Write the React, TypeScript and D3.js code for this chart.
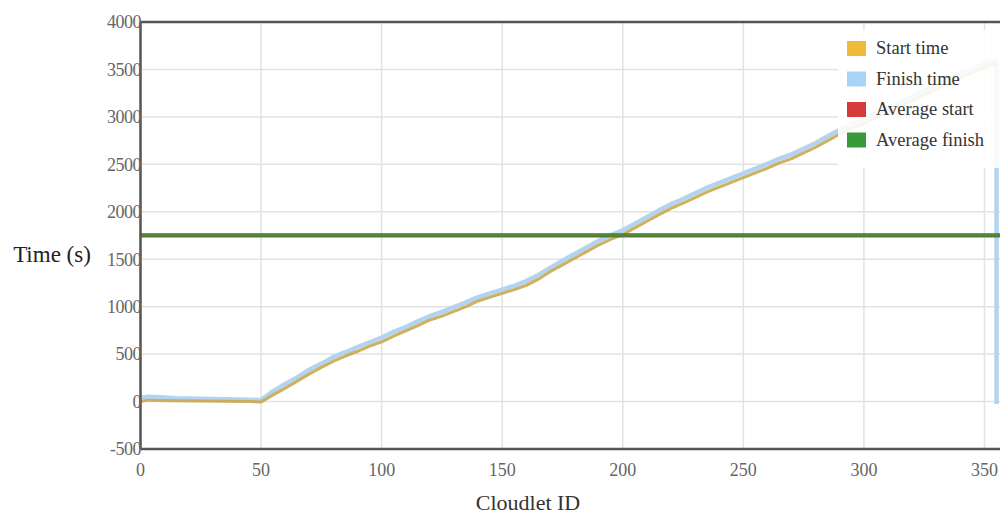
import React from "react";
import * as d3 from "d3";

const cloudletIds = [0, 3, 8, 15, 25, 35, 45, 50, 55, 60, 65, 70, 75, 80, 85, 90, 95, 100, 105, 110, 115, 120, 125, 130, 135, 140, 145, 150, 155, 160, 165, 170, 175, 180, 185, 190, 195, 200, 205, 210, 215, 220, 225, 230, 235, 240, 245, 250, 255, 260, 265, 270, 275, 280, 285, 290, 295, 300, 310, 320, 330, 340, 350, 355];
const startTimes = [0, 15, 12, 8, 5, 3, 0, -5, 70, 140, 215, 290, 360, 425, 480, 530, 585, 630, 690, 745, 800, 860, 900, 950, 1000, 1060, 1100, 1140, 1180, 1225, 1290, 1370, 1440, 1510, 1580, 1650, 1710, 1760, 1830, 1900, 1970, 2035, 2090, 2150, 2210, 2260, 2310, 2360, 2410, 2460, 2515, 2560, 2620, 2680, 2750, 2820, 2880, 2930, 3050, 3170, 3290, 3410, 3520, 3560];
const finishTimes = [40, 50, 45, 35, 30, 25, 20, 15, 110, 185, 255, 335, 400, 470, 520, 575, 625, 675, 735, 785, 845, 900, 945, 995, 1045, 1100, 1140, 1180, 1220, 1270, 1335, 1410, 1485, 1555, 1625, 1695, 1755, 1805, 1875, 1945, 2015, 2080, 2135, 2195, 2255, 2305, 2355, 2405, 2455, 2505, 2560, 2605, 2665, 2725, 2795, 2865, 2925, 2975, 3095, 3215, 3335, 3455, 3560, 3590];
const finishDropId = 355;
const finishDropValue = -25;
const averageStart = 1745;
const averageFinish = 1755;
const yTicks = [-500, 0, 500, 1000, 1500, 2000, 2500, 3000, 3500, 4000];
const xTicks = [0, 50, 100, 150, 200, 250, 300, 350];
const legendItems = ["Start time", "Finish time", "Average start", "Average finish"];
const legendColors = ["#f0b93a", "#a9d3f5", "#d63a3a", "#3a9a3a"];

export default function App() {
  const W = 1000, H = 516;
  const left = 140.5, top = 22, bottom = 449, right = 1000;
  const x = d3.scaleLinear().domain([0, 350]).range([left, 984.5]);
  const y = d3.scaleLinear().domain([-500, 4000]).range([bottom, top]);
  const line = d3.line<[number, number]>().x(d => x(d[0])).y(d => y(d[1]));
  const startPts: [number, number][] = cloudletIds.map((id, i) => [id, startTimes[i]]);
  const finishPts: [number, number][] = cloudletIds.map((id, i) => [id, finishTimes[i]]);
  finishPts.push([finishDropId, finishDropValue]);
  const serif = "'Liberation Serif', 'DejaVu Serif', serif";
  return (
    <svg width={W} height={H} style={{ position: "fixed", left: 0, top: 0, background: "#fff" }}>
      <defs>
        <clipPath id="plot">
          <rect x={left} y={top} width={right - left} height={bottom - top} />
        </clipPath>
      </defs>
      <rect x={0} y={0} width={W} height={H} fill="#fff" />
      {yTicks.map(t => (
        <line key={"gy" + t} x1={left} x2={right} y1={y(t)} y2={y(t)} stroke="#e2e2e2" strokeWidth={1.5} />
      ))}
      {xTicks.map(t => (
        <line key={"gx" + t} x1={x(t)} x2={x(t)} y1={top} y2={bottom} stroke="#e2e2e2" strokeWidth={1.5} />
      ))}
      <g clipPath="url(#plot)">
        <path d={line(finishPts) || ""} fill="none" stroke="#b3d3ee" strokeWidth={4.5} strokeLinejoin="round" />
        <path d={line(startPts) || ""} fill="none" stroke="#c9a94c" strokeWidth={3} strokeLinejoin="round" opacity={0.9} />
        <line x1={left} x2={right} y1={y(averageStart)} y2={y(averageStart)} stroke="#d63a3a" strokeWidth={3} />
        <line x1={left} x2={right} y1={y(averageFinish)} y2={y(averageFinish)} stroke="#3f8a35" strokeWidth={4} opacity={0.85} />
      </g>
      <rect x={838} y={30} width={170} height={138} fill="#fff" opacity={0.88} />
      {legendItems.map((name, i) => (
        <g key={name} transform={`translate(847, ${41 + i * 30.5})`}>
          <rect x={0} y={0} width={19} height={15} fill={legendColors[i]} />
          <text x={29} y={13} fontFamily={serif} fontSize={18.5} fill="#333">{name}</text>
        </g>
      ))}
      <line x1={left} x2={right} y1={top} y2={top} stroke="#555" strokeWidth={2.5} />
      <line x1={left} x2={right} y1={bottom} y2={bottom} stroke="#555" strokeWidth={2.5} />
      <line x1={left} x2={left} y1={top} y2={bottom} stroke="#555" strokeWidth={2.5} />
      {yTicks.map(t => (
        <text key={"ty" + t} x={141} y={y(t)} dy="0.35em" textAnchor="end" fontFamily={serif} fontSize={18} fill="#666" letterSpacing={-0.5}>{t}</text>
      ))}
      {xTicks.map(t => (
        <text key={"tx" + t} x={x(t)} y={476} textAnchor="middle" fontFamily={serif} fontSize={18} fill="#666">{t}</text>
      ))}
      <text x={528} y={510} textAnchor="middle" fontFamily={serif} fontSize={22} fill="#333">Cloudlet ID</text>
      <text x={52} y={262} textAnchor="middle" fontFamily={serif} fontSize={23} fill="#222">Time (s)</text>
    </svg>
  );
}
